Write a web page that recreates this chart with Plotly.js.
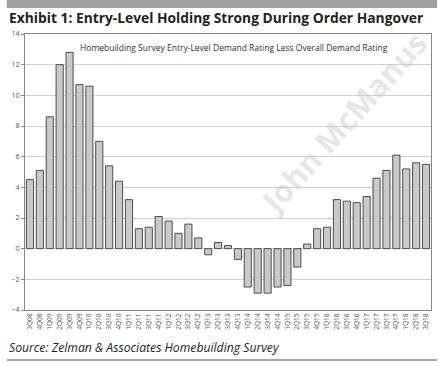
<!DOCTYPE html>
<html>
<head>
<meta charset="utf-8">
<script src="https://cdn.plot.ly/plotly-3.0.1.min.js"></script>
<style>
html,body{margin:0;padding:0;background:#fff;}
#chart{width:439px;height:366px;}
</style>
</head>
<body>
<div id="chart"></div>
<script>
var quarters = ["3Q08","4Q08","1Q09","2Q09","3Q09","4Q09","1Q10","2Q10","3Q10","4Q10",
"1Q11","2Q11","3Q11","4Q11","1Q12","2Q12","3Q12","4Q12","1Q13","2Q13","3Q13","4Q13",
"1Q14","2Q14","3Q14","4Q14","1Q15","2Q15","3Q15","4Q15","1Q16","2Q16","3Q16","4Q16",
"1Q17","2Q17","3Q17","4Q17","1Q18","2Q18","3Q18"];
var demandDiff = [4.5,5.1,8.6,12.0,12.8,10.7,10.6,7.0,5.4,4.4,
3.2,1.3,1.4,2.1,1.8,1.0,1.6,0.7,-0.4,0.4,0.2,-0.7,
-2.5,-2.9,-2.9,-2.5,-2.4,-1.2,0.3,1.3,1.4,3.2,3.1,3.0,
3.4,4.6,5.1,6.1,5.2,5.6,5.5];
var yTicks = [-4,-2,0,2,4,6,8,10,12,14];

var trace = {
  type: "bar",
  x: quarters,
  y: demandDiff,
  marker: {color: "#c9c9c9", line: {color: "#4d4d4d", width: 1}},
  hoverinfo: "x+y"
};

var layout = {
  width: 439, height: 366,
  margin: {l: 25, r: 8, t: 34, b: 56},
  paper_bgcolor: "#fff", plot_bgcolor: "#fff",
  showlegend: false,
  bargap: 0.28,
  font: {family: "Open Sans, sans-serif", color: "#444"},
  xaxis: {
    type: "category",
    tickangle: -90,
    tickfont: {size: 6.5, color: "#555"},
    showgrid: false,
    showline: true, linecolor: "#888", linewidth: 1, mirror: true,
    ticks: "", zeroline: false,
    automargin: false
  },
  yaxis: {
    range: [-4, 14],
    tickvals: yTicks,
    tickfont: {size: 7, color: "#555"},
    showgrid: true, gridcolor: "#d0d0d0", gridwidth: 1,
    zeroline: true, zerolinecolor: "#d0d0d0", zerolinewidth: 1,
    showline: true, linecolor: "#888", linewidth: 1, mirror: true,
    ticks: "outside", ticklen: 3, tickcolor: "#888",
    automargin: false
  },
  shapes: [
    {type: "rect", xref: "paper", yref: "paper", x0: -0.045, x1: 1.015, y0: 1.0 + 26/276, y1: 1.0 + 34/276,
     fillcolor: "#a0a0a0", line: {width: 0}},
    {type: "line", xref: "paper", yref: "paper", x0: -0.045, x1: 1.015, y0: -50/276, y1: -50/276,
     line: {color: "#a8a8a8", width: 2}}
  ],
  annotations: [
    {text: "<b>Exhibit 1: Entry-Level Holding Strong During Order Hangover</b>",
     xref: "paper", yref: "paper", x: -0.045, y: 1.0 + 16/276, xanchor: "left", yanchor: "middle",
     showarrow: false, font: {size: 13.8, color: "#222", family: "Open Sans, sans-serif"}},
    {text: "John McManus",
     xref: "paper", yref: "paper", x: 0.785, y: 0.68, xanchor: "center", yanchor: "middle",
     textangle: -48, showarrow: false,
     font: {size: 31, color: "rgba(200,200,200,0.45)", family: "Open Sans, sans-serif", weight: 700}},
    {text: "Homebuilding Survey Entry-Level Demand Rating Less Overall Demand Rating",
     xref: "paper", yref: "paper", x: 0.515, y: 1 - 13/276, xanchor: "center", yanchor: "middle",
     showarrow: false, font: {size: 8.5, color: "#333"}},
    {text: "<i>Source: Zelman &amp; Associates Homebuilding Survey</i>",
     xref: "paper", yref: "paper", x: -0.045, y: -37/276, xanchor: "left", yanchor: "middle",
     showarrow: false, font: {size: 12.2, color: "#222"}}
  ]
};

Plotly.newPlot("chart", [trace], layout, {displayModeBar: false, staticPlot: true});
</script>
</body>
</html>
